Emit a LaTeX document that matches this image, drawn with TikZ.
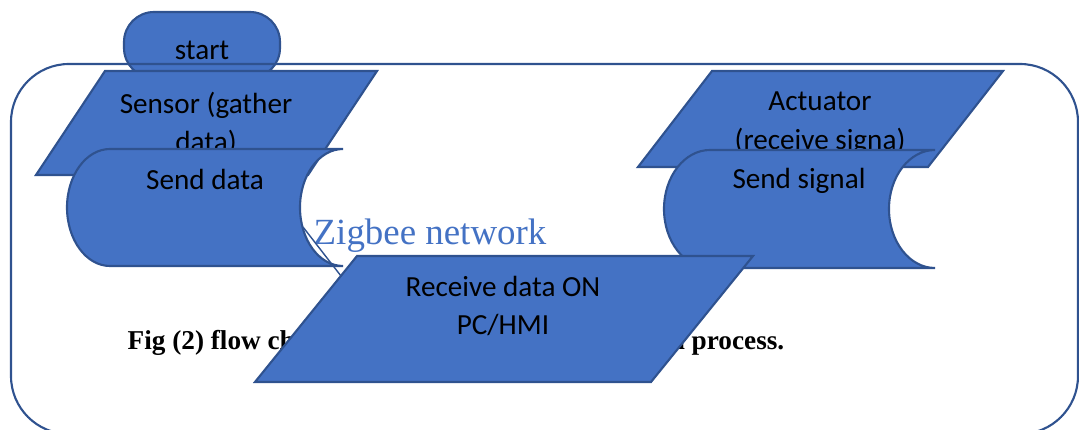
\documentclass[tikz,border=0pt]{standalone}
\usepackage{fontspec}
\setmainfont{Liberation Serif}
\newfontfamily\calfont{Carlito}
\definecolor{boxblue}{HTML}{4472C4}
\definecolor{boxline}{HTML}{2F528F}
% stored data shape: (left x : right x : top y : bottom y : bulge)
\def\storedshape[#1](#2:#3:#4:#5:#6){\draw[#1] (#2,#4) -- (#3,#4) arc[start angle=90, end angle=270, x radius=#6, y radius={(#4-#5)/2}] -- (#2,#5) arc[start angle=270, end angle=90, x radius=#6, y radius={(#4-#5)/2}] -- cycle;}

\tikzset{
	flowbox/.style={fill=boxblue, draw=boxline, line width=0.6pt},
	boxtext/.style={font=\calfont\fontsize{8.3}{10.9}\selectfont, align=center, inner sep=0pt, text=black},
	captext/.style={font=\bfseries\fontsize{7.75}{9}\selectfont, inner sep=0pt}
}

\begin{document}
\begin{tikzpicture}
		\useasboundingbox (0, 0) rectangle (10.79, 4.30);
		
		%%%%% START %%%%%
		\draw[flowbox, rounded corners=0.3cm] (1.24, 4.18) rectangle (2.80, 3.52);
		\node[boxtext] (start) at (2.02, 3.80) {start};
		
		% frame around the whole flow
		\draw[boxline, line width=0.6pt, rounded corners=0.58cm] (0.11, 3.66) rectangle (10.78, -0.04);
		
		%%%%% SENSOR SIDE %%%%%
		\draw[flowbox] (1.05, 3.59) -- (3.77, 3.59) -- (3.08, 2.55) -- (0.36, 2.55) -- cycle;
		\node[boxtext] (sensor) at (2.06, 3.06) {Sensor (gather\\data)};
		
		\storedshape[flowbox](1.10:3.43:2.81:1.64:0.43)
		\node[boxtext] (senddata) at (2.05, 2.51) {Send data};
		
		%%%%% ACTUATOR SIDE %%%%%
		\draw[flowbox] (7.12, 3.59) -- (10.03, 3.59) -- (9.28, 2.63) -- (6.38, 2.63) -- cycle;
		\node[boxtext] (actuator) at (8.20, 3.07) {Actuator\\(receive signa)};
		
		\storedshape[flowbox](7.10:9.35:2.80:1.62:0.46)
		\node[boxtext] (sendsignal) at (7.99, 2.49) {Send signal};
		
		%%%%% NETWORK %%%%%
		\node[anchor=base, inner sep=0pt, text=boxblue, font=\fontsize{10.5}{12}\selectfont] (zigbee) at (4.30, 1.85) {Zigbee network};
		\coordinate (link-a) at (3.03, 2.03);
		\coordinate (link-b) at (3.41, 1.54);
		\draw[boxline, line width=0.4pt] (link-a) -- (link-b);
		
		% caption, partly under the receive box
		\node[captext, anchor=base west] (capleft) at (1.27, 0.80) {Fig (2) flow ch};
		\node[captext, anchor=base east] (capright) at (7.85, 0.80) {n process.};
		
		\draw[flowbox] (3.57, 1.74) -- (7.53, 1.74) -- (6.51, 0.48) -- (2.55, 0.48) -- cycle;
		\node[boxtext] (receive) at (5.03, 1.24) {Receive data ON\\PC/HMI};
		%%%%% END %%%%%
	\end{tikzpicture}
\end{document}
